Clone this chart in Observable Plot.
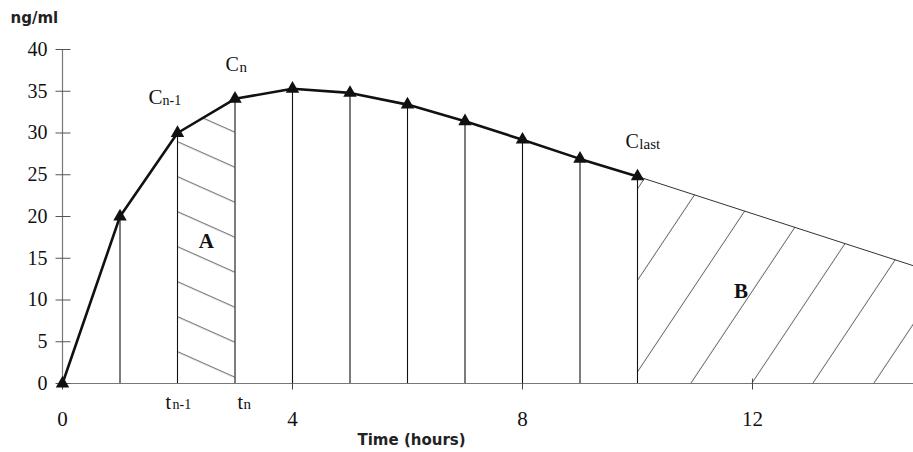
<!DOCTYPE html>
<html>
<head>
<meta charset="utf-8">
<script src="https://cdn.jsdelivr.net/npm/d3@7"></script>
<script src="https://cdn.jsdelivr.net/npm/@observablehq/plot@0.6"></script>
<style>
  body { margin: 0; background: #fff; }
</style>
</head>
<body>
<div id="chart"></div>
<script>
// ---- data ----
const times = [0, 1, 2, 3, 4, 5, 6, 7, 8, 9, 10];
const conc = [0, 20, 30, 34.1, 35.3, 34.8, 33.4, 31.4, 29.2, 26.9, 24.8];
const extrapTimes = [10, 14.8];
const extrapConc = [24.8, 14.1];
const yTicks = [0, 5, 10, 15, 20, 25, 30, 35, 40];
const xTicks = [0, 4, 8, 12];
const xDomain = [0, 14.8];
const yDomain = [0, 40];
const idxPrev = 2, idxN = 3, idxLast = 10;
const regionLabels = ["A", "B"];
const regionX = [2.5, 11.8];
const regionY = [17, 11];

// ---- tables ----
const points = times.map((t, i) => ({t, c: conc[i]}));
const extrap = extrapTimes.map((t, i) => ({t, c: extrapConc[i]}));
const areaA = points.filter(d => d.t >= times[idxPrev] && d.t <= times[idxN]);
const regions = regionLabels.map((s, i) => ({s, x: regionX[i], y: regionY[i]}));

const hTick = {draw(ctx) { ctx.moveTo(-7, 0); ctx.lineTo(8, 0); }};
const vTick = {draw(ctx) { ctx.moveTo(0, -5); ctx.lineTo(0, 6); }};

const serif = "Liberation Serif";
const sans = "DejaVu Sans";

function subLabel(base, sub, t, c, bdx, bdy, sdx, sdy, bsize, ssize) {
  return [
    Plot.text([0], {x: () => t, y: () => c, text: () => base, dx: bdx, dy: bdy,
      textAnchor: "start", lineAnchor: "bottom", fontSize: bsize, fontFamily: serif, fill: "#111"}),
    Plot.text([0], {x: () => t, y: () => c, text: () => sub, dx: sdx, dy: sdy,
      textAnchor: "start", lineAnchor: "bottom", fontSize: ssize, fontFamily: serif, fill: "#111"})
  ];
}

const svg = Plot.plot({
  width: 913,
  height: 452,
  marginLeft: 62,
  marginRight: 0,
  marginTop: 49,
  marginBottom: 69,
  style: {fontFamily: serif, background: "#fff", color: "#111"},
  x: {domain: xDomain},
  y: {domain: yDomain},
  marks: [
    // hatched areas
    Plot.areaY(areaA, {x: "t", y: "c", fill: "url(#hatchA)"}),
    Plot.areaY(extrap, {x: "t", y: "c", fill: "url(#hatchB)"}),
    // axis lines
    Plot.ruleY([0], {stroke: "#777", strokeWidth: 1.2}),
    Plot.ruleX([0], {y1: 0, y2: 40, stroke: "#777", strokeWidth: 1.2}),
    // tick marks crossing the axes
    Plot.dot(yTicks, {x: 0, y: d => d, symbol: hTick, r: 3, fill: "none", stroke: "#555", strokeWidth: 1}),
    Plot.dot(xTicks, {x: d => d, y: 0, symbol: vTick, r: 3, fill: "none", stroke: "#444", strokeWidth: 1}),
    // tick labels
    Plot.axisY(yTicks, {tickSize: 0, tickPadding: 15, fontSize: 20, label: null, fill: "#111"}),
    Plot.axisX(xTicks, {tickSize: 0, tickPadding: 28, fontSize: 21, label: null, fill: "#111"}),
    // drop lines
    Plot.ruleX(points.filter(d => d.t > 0), {x: "t", y1: 0, y2: "c", stroke: "#111", strokeWidth: 1.1}),
    // extrapolation line
    Plot.line(extrap, {x: "t", y: "c", stroke: "#333", strokeWidth: 1}),
    // concentration curve
    Plot.line(points, {x: "t", y: "c", stroke: "#111", strokeWidth: 2.6}),
    Plot.dot(points, {x: "t", y: "c", symbol: "triangle", r: 5, fill: "#111", stroke: "none"}),
    // point labels
    ...subLabel("C", "n-1", times[idxPrev], conc[idxPrev], -29, -29, -15, -28, 21, 14),
    ...subLabel("C", "n", times[idxN], conc[idxN], -9.5, -27.5, 4.5, -27, 20, 15),
    ...subLabel("C", "last", times[idxLast], conc[idxLast], -12, -28, 1.8, -27.5, 20, 15),
    // time labels
    ...subLabel("t", "n-1", times[idxPrev], 0, -12, 25, -5, 25.5, 20, 14),
    ...subLabel("t", "n", times[idxN], 0, 2.5, 25, 8.5, 25.5, 20, 15),
    // region labels
    Plot.text(regions, {x: "x", y: "y", text: "s", fontSize: 21, fontWeight: "bold", fontFamily: serif, fill: "#111"}),
    // titles
    Plot.text(["ng/ml"], {frameAnchor: "top-left", dx: -52, dy: -27, textAnchor: "start", lineAnchor: "bottom",
      fontFamily: sans, fontWeight: "bold", fontSize: 15, fill: "#222"}),
    Plot.text(["Time (hours)"], {frameAnchor: "bottom-left", dx: 295, dy: 61, textAnchor: "start", lineAnchor: "bottom",
      fontFamily: sans, fontWeight: "bold", fontSize: 15, fill: "#222"})
  ]
});

// hatch patterns
const defs = d3.select(svg).insert("defs", ":first-child");
const pA = defs.append("pattern")
  .attr("id", "hatchA").attr("patternUnits", "userSpaceOnUse")
  .attr("width", 20).attr("height", 35)
  .attr("patternTransform", "skewY(24)");
pA.append("line").attr("x1", -2).attr("x2", 22).attr("y1", 27.7).attr("y2", 27.7)
  .attr("stroke", "#555").attr("stroke-width", 1);
const pB = defs.append("pattern")
  .attr("id", "hatchB").attr("patternUnits", "userSpaceOnUse")
  .attr("width", 61).attr("height", 20)
  .attr("patternTransform", "skewX(-33.7)");
pB.append("line").attr("x1", 31.4).attr("x2", 31.4).attr("y1", -2).attr("y2", 22)
  .attr("stroke", "#555").attr("stroke-width", 1);

document.getElementById("chart").appendChild(svg);
</script>
</body>
</html>
